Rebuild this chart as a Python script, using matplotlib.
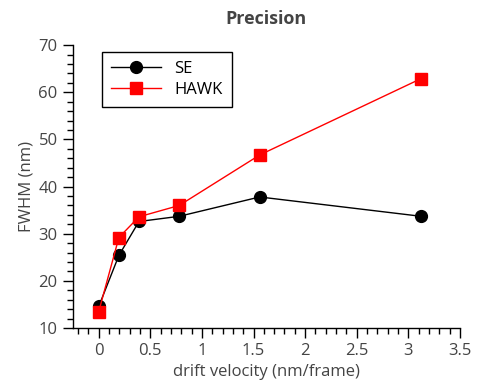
import matplotlib.pyplot as plt
from matplotlib.ticker import MultipleLocator

drift = [0, 0.195, 0.39, 0.78, 1.56, 3.125]
se_fwhm = [14.6, 25.4, 32.6, 33.7, 37.8, 33.7]
hawk_fwhm = [13.5, 29.2, 33.6, 36.0, 46.7, 62.9]

txt = '#444444'
plt.rcParams['font.family'] = ['Open Sans', 'DejaVu Sans']

fig = plt.figure(figsize=(4.8, 3.92), dpi=100)
ax = fig.add_axes([0.152, 0.163, 0.806, 0.722])

ax.plot(drift, se_fwhm, color='black', marker='o', markersize=8.5, lw=1, label='SE')
ax.plot(drift, hawk_fwhm, color='red', marker='s', markersize=8, lw=1, label='HAWK')

ax.set_xlim(-0.25, 3.5)
ax.set_ylim(10, 70)
ax.xaxis.set_major_locator(MultipleLocator(0.5))
ax.xaxis.set_minor_locator(MultipleLocator(0.1))
ax.yaxis.set_major_locator(MultipleLocator(10))
ax.yaxis.set_minor_locator(MultipleLocator(2))
ax.set_xticks([0, 0.5, 1, 1.5, 2, 2.5, 3, 3.5])
ax.set_xticklabels(['0', '0.5', '1', '1.5', '2', '2.5', '3', '3.5'])

for s in ['top', 'right']:
    ax.spines[s].set_visible(False)
for s in ['left', 'bottom']:
    ax.spines[s].set_linewidth(1)
ax.tick_params(which='major', length=7, width=1, labelsize=12, labelcolor=txt, pad=4)
ax.tick_params(which='minor', length=4, width=1)

ax.set_xlabel('drift velocity (nm/frame)', fontsize=12, color=txt, labelpad=3)
ax.set_ylabel('FWHM (nm)', fontsize=12, color=txt, labelpad=3)
ax.set_title('Precision', fontsize=13, fontweight='bold', color=txt, pad=15)

# legend box sits just under the top of the axes
leg = ax.legend(loc='upper left', bbox_to_anchor=(0.075, 0.975), borderaxespad=0,
                fontsize=12, fancybox=False, framealpha=1, edgecolor='black',
                borderpad=0.55, handlelength=3.0, labelspacing=0.3)
leg.get_frame().set_linewidth(1)
for t in leg.get_texts():
    t.set_color('black')

fig.savefig('out.png', dpi=100)
